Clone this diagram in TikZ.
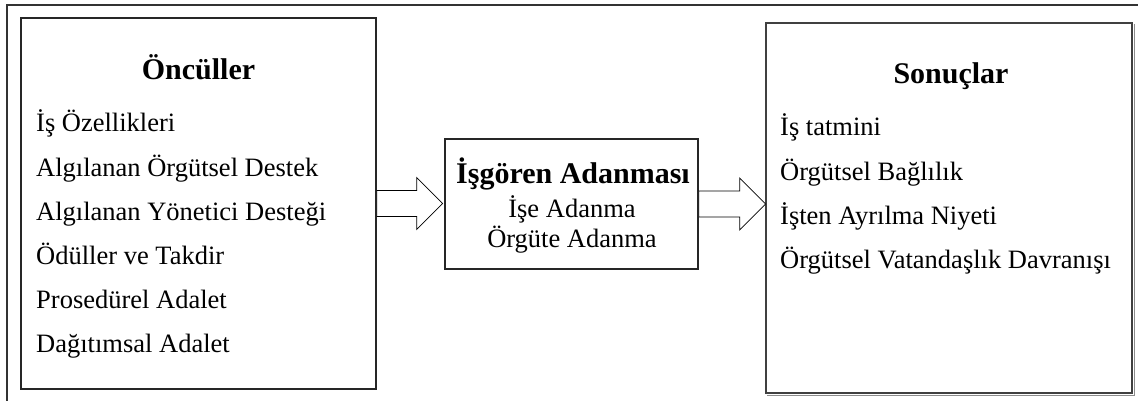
\documentclass[tikz,border=0pt]{standalone}
\usepackage{fontspec}
\setmainfont{Liberation Serif}
\usetikzlibrary{calc}
\begin{document}
\begin{tikzpicture}[x=1pt,y={(0pt,-1pt)}]
\tikzset{
  frameline/.style={draw=black!80, line width=1.2pt},
  boxnode/.style={draw=black!85, line width=1.3pt, inner sep=0pt},
  shadowline/.style={draw=black!45, line width=1.2pt},
  titletext/.style={font=\fontsize{30}{33}\selectfont\bfseries, anchor=base, inner sep=0pt},
  itemtext/.style={font=\fontsize{26.5}{29}\selectfont, anchor=base west, inner sep=0pt},
  midtext/.style={font=\fontsize{26.5}{29}\selectfont, anchor=base, inner sep=0pt},
  blockarrow/.style={draw=black, line width=0.8pt, fill=white, line join=miter},
}
\useasboundingbox (0,0) rectangle (1138,401);
% outer frame (top and left only)
\coordinate (fa) at (7,401);
\coordinate (fb) at (7,5);
\coordinate (fc) at (1138,5);
\draw[frameline] (fa) -- (fb) -- (fc);
% boxes
\node[boxnode, minimum width=355pt, minimum height=371pt] (L) at (198.5,203.5) {};
\node[boxnode, minimum width=253pt, minimum height=130pt] (M) at (571.5,204) {};
\node[boxnode, draw=black!75, minimum width=366pt, minimum height=370pt] (R) at (949,208) {};
\draw[shadowline] ($(R.north east)+(1.6,2)$) -- ($(R.south east)+(1.6,1.6)$) -- ($(R.south west)+(2,1.6)$);
% block arrows
\draw[blockarrow] (L.east) ++(0,-13) -- ++(40,0) -- ++(0,-13) -- ++(26,26) -- ++(-26,26) -- ++(0,-13) -- ++(-40,0) -- cycle;
\draw[blockarrow] (M.east) ++(0,-13) -- ++(41,0) -- ++(0,-13) -- ++(26,26) -- ++(-26,26) -- ++(0,-13) -- ++(-41,0) -- cycle;
% left texts
\node[titletext] (lt) at (198.5,80) {Öncüller};
\node[itemtext] (l1) at (36,132) {İş Özellikleri};
\node[itemtext] (l2) at (36,176) {Algılanan Örgütsel Destek};
\node[itemtext] (l3) at (36,220) {Algılanan Yönetici Desteği};
\node[itemtext] (l4) at (36,264) {Ödüller ve Takdir};
\node[itemtext] (l5) at (36,308) {Prosedürel Adalet};
\node[itemtext] (l6) at (36,352) {Dağıtımsal Adalet};
% middle texts
\node[titletext] (mt) at (573,183) {İşgören Adanması};
\node[midtext] (m1) at (572,217) {İşe Adanma};
\node[midtext] (m2) at (572,247) {Örgüte Adanma};
% right texts
\node[titletext] (rt) at (951,84) {Sonuçlar};
\node[itemtext] (r1) at (780,136) {İş tatmini};
\node[itemtext] (r2) at (780,180) {Örgütsel Bağlılık};
\node[itemtext] (r3) at (780,224) {İşten Ayrılma Niyeti};
\node[itemtext] (r4) at (780,268) {Örgütsel Vatandaşlık Davranışı};
\end{tikzpicture}
\end{document}
